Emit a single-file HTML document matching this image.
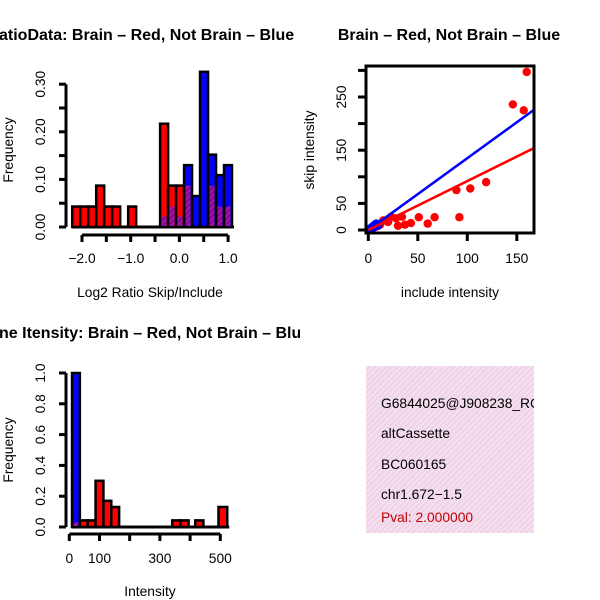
<!DOCTYPE html>
<html><head><meta charset="utf-8"><style>
html,body{margin:0;padding:0;background:#fff;}
svg{display:block;font-family:"Liberation Sans",sans-serif;}
</style></head><body>
<svg id="c" width="600" height="600" viewBox="0 0 600 600" xmlns="http://www.w3.org/2000/svg">
<defs>
<clipPath id="clipL"><rect x="0" y="0" width="300" height="600"/></clipPath>
<clipPath id="clipR"><rect x="300" y="0" width="300" height="600"/></clipPath>
<clipPath id="clipPanel"><rect x="366" y="366" width="168" height="167"/></clipPath>
<pattern id="purp" width="4" height="4" patternUnits="userSpaceOnUse" patternTransform="rotate(45)"><rect width="4" height="4" fill="#8a00a0"/><rect width="1.5" height="4" fill="#a020a8"/></pattern>
<pattern id="pink" width="4" height="4" patternUnits="userSpaceOnUse" patternTransform="rotate(45)"><rect width="4" height="4" fill="#f9dcf2"/><rect width="1.2" height="4" fill="#e2d4dc"/></pattern>
</defs>
<g id="p1"></g>
<g id="p2"></g>
<g id="p3"></g>
<g>
<rect x="366" y="366" width="168" height="167" fill="url(#pink)"/>
<g clip-path="url(#clipPanel)" font-size="13.8">
<text x="381" y="408">G6844025@J908238_RC</text>
<text x="381" y="438">altCassette</text>
<text x="381" y="469">BC060165</text>
<text x="381" y="499">chr1.672−1.5</text>
<text x="381" y="522" fill="#c00000">Pval: 2.000000</text>
</g></g>
<g font-weight="bold" font-size="16">
<text x="-1" y="40" clip-path="url(#clipL)">atioData: Brain – Red, Not Brain – Blue</text>
<text x="449" y="40" text-anchor="middle" clip-path="url(#clipR)">Brain – Red, Not Brain – Blue</text>
<text x="-1" y="338" clip-path="url(#clipL)">ne Itensity: Brain – Red, Not Brain – Blue</text>
</g>
<g font-size="13.8" text-anchor="middle">
<text x="150" y="297">Log2 Ratio Skip/Include</text>
<text transform="translate(13,150) rotate(-90)">Frequency</text>
<text x="450" y="297">include intensity</text>
<text transform="translate(314,150) rotate(-90)">skip intensity</text>
<text x="150" y="596">Intensity</text>
<text transform="translate(13,450) rotate(-90)">Frequency</text>
</g>
</svg>
<script>
// ---- Ratio histogram data ----
const ratioBreakStart = -2.2;
const ratioBinWidth = 0.164;
const ratioRed  = [0.043,0.043,0.043,0.087,0.043,0.043,0,0.043,0,0,0,0.217,0.087,0.087,0.087,0,0,0.087,0.043,0.043];
const ratioBlue = [0,0,0,0,0,0,0,0,0,0,0,0.022,0.043,0.022,0.13,0.065,0.326,0.152,0.109,0.13];
const ratioXTicks = [-2,-1.5,-1,-0.5,0,0.5,1];
const ratioXLabels = ["−2.0","","−1.0","","0.0","","1.0"];
const ratioYTicks = [0,0.05,0.1,0.15,0.2,0.25,0.3];
const ratioYLabels = ["0.00","","0.10","","0.20","","0.30"];
// ---- Scatter data ----
const redX = [160,146,157,119,103,89,92,67,51,60,43,34,30,37,20,23,28,12,8,15];
const redY = [297,236,225,90,78,75,24,24,24,12,13,25,8,10,15,25,22,10,6,18];
const blueX = [2,4,6,8,10,3,5,7,9,1];
const blueY = [3,6,9,12,8,2,4,10,11,1];
const blueSlope = 1.35;
const redSlope = 0.92;
const scatXTicks = [0,50,100,150];
const scatYTicks = [0,50,100,150,200,250,300];
const scatYLabels = ["0","50","","150","","250",""];
// ---- Intensity histogram data ----
const intLeft  = [9,35,61,87,113,139,341,368,417,494];
const intRight = [35,61,87,113,139,165,368,395,444,523];
const intRed   = [0.03,0.043,0.043,0.3,0.17,0.13,0.043,0.043,0.043,0.13];
const intBlue  = [1.0,0,0,0,0,0,0,0,0,0];
const intXTicks = [0,100,200,300,400,500];
const intXLabels = ["0","100","","300","","500"];
const intYTicks = [0,0.2,0.4,0.6,0.8,1.0];
const intYLabels = ["0.0","0.2","0.4","0.6","0.8","1.0"];

const NS="http://www.w3.org/2000/svg";
const FS=13.8;
function mk(parent,tag,attrs){const e=document.createElementNS(NS,tag);for(const k in attrs)e.setAttribute(k,attrs[k]);parent.appendChild(e);return e;}

function histBars(g,lefts,rights,red,blue,sx,sy,prefix){
  for(let i=0;i<lefts.length;i++){
    const x0=sx(lefts[i]),x1=sx(rights[i]);
    const r=red[i],b=blue[i];const hi=Math.max(r,b),lo=Math.min(r,b);
    if(hi<=0)continue;
    const col=b>=r?"#0000ff":"#ff0000";
    const bar=mk(g,"rect",{x:x0,y:sy(hi),width:x1-x0,height:sy(0)-sy(hi),fill:col,stroke:"#000","stroke-width":2.5});
    
    
    if(lo>0){
      const ov=mk(g,"rect",{x:x0+1.5,y:sy(lo),width:x1-x0-3,height:sy(0)-sy(lo)-1,fill:"url(#purp)"});
      
      
    }
  }
}
function yAxis(g,x,ticks,labels,sy,lx,name){
  const ax=mk(g,"line",{x1:x,x2:x,y1:sy(ticks[0]),y2:sy(ticks[ticks.length-1]),stroke:"#000","stroke-width":3});
  
  
  ticks.forEach((t,i)=>{
    mk(g,"line",{x1:x-7,x2:x,y1:sy(t),y2:sy(t),stroke:"#000","stroke-width":3});
    if(labels[i]){const tx=mk(g,"text",{transform:`translate(${lx},${sy(t)}) rotate(-90)`,"text-anchor":"middle","font-size":FS});tx.textContent=labels[i];
      
      }
  });
}
function xAxis(g,y,ticks,labels,sx,ly,name){
  const ax=mk(g,"line",{x1:sx(ticks[0]),x2:sx(ticks[ticks.length-1]),y1:y,y2:y,stroke:"#000","stroke-width":3});
  
  
  ticks.forEach((t,i)=>{
    mk(g,"line",{x1:sx(t),x2:sx(t),y1:y,y2:y+7,stroke:"#000","stroke-width":3});
    if(labels[i]){const tx=mk(g,"text",{x:sx(t),y:ly,"text-anchor":"middle","font-size":FS});tx.textContent=labels[i];
      
      }
  });
}
// Panel 1
(function(){
  const g=document.getElementById('p1');
  const sx=v=>82+(v+2)*48.7, sy=v=>227-v*476;
  const L=ratioRed.map((_,i)=>ratioBreakStart+i*ratioBinWidth), R=L.map(v=>v+ratioBinWidth);
  mk(g,"line",{x1:sx(L[0]),x2:sx(R[R.length-1])+2,y1:227,y2:227,stroke:"#000","stroke-width":3});
  histBars(g,L,R,ratioRed,ratioBlue,sx,sy,'ratio');
  yAxis(g,66,ratioYTicks,ratioYLabels,sy,45,'ratio-y-axis');
  xAxis(g,235,ratioXTicks,ratioXLabels,sx,263,'ratio-x-axis');
})();
// Panel 3
(function(){
  const g=document.getElementById('p3');
  const sx=v=>69.3+v*0.302, sy=v=>527-v*154;
  mk(g,"line",{x1:sx(intLeft[0]),x2:sx(intRight[intRight.length-1])+2,y1:527,y2:527,stroke:"#000","stroke-width":3});
  histBars(g,intLeft,intRight,intRed,intBlue,sx,sy,'intensity');
  yAxis(g,66,intYTicks,intYLabels,sy,45,'intensity-y-axis');
  xAxis(g,534,intXTicks,intXLabels,sx,563,'intensity-x-axis');
})();
// Panel 2
(function(){
  const g=document.getElementById('p2');
  const sx=v=>368.3+v*0.99, sy=v=>230-v*0.532;
  const cp=mk(document.querySelector('defs'),"clipPath",{id:"clipS"});
  mk(cp,"rect",{x:366,y:66,width:168,height:167});
  const inner=mk(g,"g",{"clip-path":"url(#clipS)"});
  redX.forEach((x,i)=>{const c=mk(inner,"circle",{cx:sx(x),cy:sy(redY[i]),r:4.2,fill:"#ff0000"});
    
    });
  blueX.forEach((x,i)=>{const c=mk(inner,"circle",{cx:sx(x),cy:sy(blueY[i]),r:4.2,fill:"#0000ff"});
    
    });
  const bl=mk(inner,"line",{x1:sx(0),y1:sy(0),x2:sx(175),y2:sy(175*blueSlope),stroke:"#0000ff","stroke-width":2.5});
  
  
  const rl=mk(inner,"line",{x1:sx(0),y1:sy(0),x2:sx(175),y2:sy(175*redSlope),stroke:"#ff0000","stroke-width":2.5});
  
  
  const box=mk(g,"rect",{x:366,y:66,width:168,height:167,fill:"none",stroke:"#000","stroke-width":3});
  
  
  scatYTicks.forEach((t,i)=>{mk(g,"line",{x1:358,x2:366,y1:sy(t),y2:sy(t),stroke:"#000","stroke-width":3});
    if(scatYLabels[i]){const tx=mk(g,"text",{transform:`translate(346,${sy(t)}) rotate(-90)`,"text-anchor":"middle","font-size":FS});tx.textContent=scatYLabels[i];
      
      }});
  scatXTicks.forEach(t=>{mk(g,"line",{x1:sx(t),x2:sx(t),y1:233,y2:241,stroke:"#000","stroke-width":3});
    const tx=mk(g,"text",{x:sx(t),y:263,"text-anchor":"middle","font-size":FS});tx.textContent=String(t);
    
    });
})();
</script>
</body></html>
